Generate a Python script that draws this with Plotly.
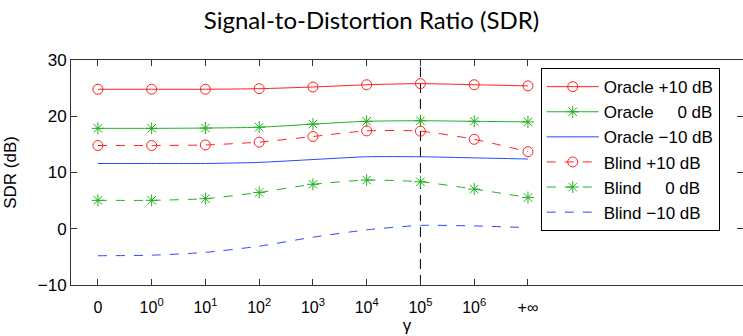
import plotly.graph_objects as go

x_labels = ["0", "10<sup>0</sup>", "10<sup>1</sup>", "10<sup>2</sup>", "10<sup>3</sup>",
            "10<sup>4</sup>", "10<sup>5</sup>", "10<sup>6</sup>", "+∞"]
x_idx = list(range(len(x_labels)))

oracle_p10 = [24.8, 24.8, 24.8, 24.9, 25.2, 25.6, 25.8, 25.6, 25.4]
oracle_0 = [17.85, 17.85, 17.9, 18.05, 18.6, 19.1, 19.2, 19.1, 19.0]
oracle_m10 = [11.6, 11.6, 11.6, 11.8, 12.3, 12.8, 12.8, 12.6, 12.4]
blind_p10 = [14.8, 14.8, 14.9, 15.4, 16.4, 17.4, 17.35, 15.9, 13.7]
blind_0 = [5.05, 5.05, 5.35, 6.45, 7.9, 8.65, 8.35, 7.05, 5.55]
blind_m10 = [-4.8, -4.7, -4.2, -3.1, -1.5, -0.2, 0.6, 0.5, 0.2]

names = ["Oracle +10 dB", "Oracle\u00a0\u00a0\u00a0\u00a0 0 dB", "Oracle −10 dB",
         "Blind +10 dB", "Blind\u00a0\u00a0\u00a0\u00a0 0 dB", "Blind −10 dB"]

RED = "#ff2020"
GREEN = "#22b022"
BLUE = "#2848ff"

series = [
    (oracle_p10, RED, "solid", "circle-open"),
    (oracle_0, GREEN, "solid", "asterisk-open"),
    (oracle_m10, BLUE, "solid", None),
    (blind_p10, RED, "dash", "circle-open"),
    (blind_0, GREEN, "dash", "asterisk-open"),
    (blind_m10, BLUE, "dash", None),
]

fig = go.Figure()
for (vals, col, dash, sym), nm in zip(series, names):
    mode = "lines+markers" if sym else "lines"
    fig.add_trace(go.Scatter(
        x=x_idx, y=vals, name=nm, mode=mode,
        line=dict(color=col, width=1, dash=dash, shape="spline", smoothing=0.6),
        marker=dict(symbol=sym or "circle", size=10, color=col,
                    line=dict(color=col, width=1)) if sym else None,
    ))

fig.add_shape(type="line", x0=6, x1=6, y0=-10, y1=30, xref="x", yref="y",
              line=dict(color="black", width=1, dash="10px,6px"), layer="below")

fig.update_layout(
    width=743, height=336,
    margin=dict(l=71, r=0, t=60, b=51, autoexpand=False),
    paper_bgcolor="white", plot_bgcolor="white",
    font=dict(family="Liberation Sans, Arial, sans-serif", size=16, color="black"),
    title=dict(text="Signal-to-Distortion Ratio (SDR)", x=0.5, xanchor="center",
               y=0.94, yanchor="middle",
               font=dict(family="Lato, Open Sans, sans-serif", size=24, color="black")),
    legend=dict(x=0.699, y=0.964, xanchor="left", yanchor="top",
                bgcolor="white", bordercolor="black", borderwidth=1,
                font=dict(size=17), tracegroupgap=0, itemwidth=52),
    showlegend=True,
)
fig.update_xaxes(
    range=[-0.5, 12.0], tickmode="array", tickvals=x_idx, ticktext=x_labels,
    ticks="inside", ticklen=6, tickcolor="#333", showline=True, linecolor="#333",
    linewidth=1, mirror="ticks", showgrid=False, zeroline=False, automargin=False,
    ticklabelstandoff=8,
    title=dict(text="γ", standoff=0, font=dict(size=17)),
)
fig.update_yaxes(
    range=[-10, 30], tickmode="array", tickvals=[-10, 0, 10, 20, 30],
    ticktext=["−10", "0", "10", "20", "30"],
    ticks="inside", ticklen=6, tickcolor="#333", showline=True, linecolor="#333",
    linewidth=1, mirror="ticks", showgrid=False, zeroline=False, automargin=False,
    tickfont=dict(size=17),
    title=dict(text="SDR (dB)", standoff=16, font=dict(size=17)),
)

fig.write_html("out.html", config={"displayModeBar": False},
               post_script="document.body.style.margin='0px';document.body.style.overflow='hidden';")
